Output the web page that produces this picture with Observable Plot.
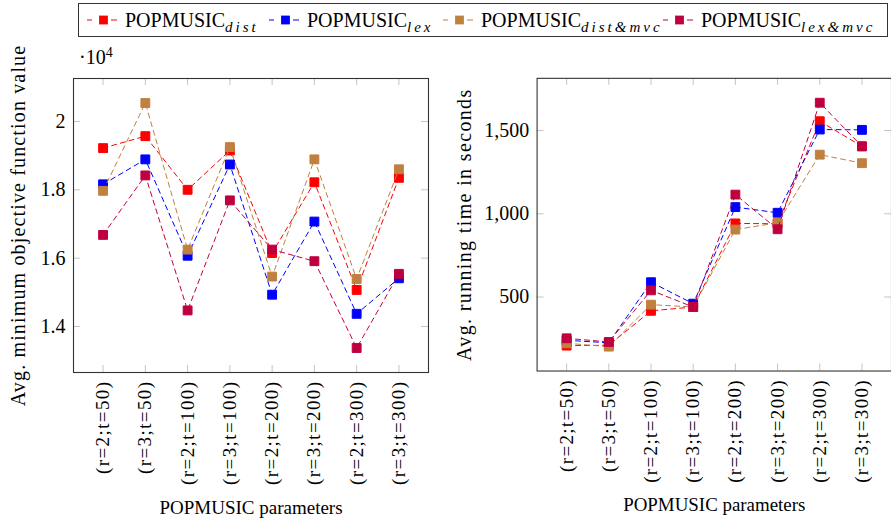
<!DOCTYPE html>
<html><head><meta charset="utf-8">
<script src="https://cdn.jsdelivr.net/npm/d3@7"></script>
<script src="https://cdn.jsdelivr.net/npm/@observablehq/plot@0.6"></script>
<style>
html,body{margin:0;padding:0;background:#fff;}
body{width:891px;height:519px;overflow:hidden;position:relative;font-family:'Liberation Serif','Times New Roman',serif;color:#000;}
#legend{position:absolute;left:78px;top:3px;width:808px;height:32px;border:1px solid #333;font-size:20px;font-family:'Liberation Serif',serif;}
.item{position:absolute;top:0;height:32px;display:flex;align-items:center;white-space:nowrap;}
.item svg{margin-right:8px;}
.item sub{font-style:italic;font-size:15px;letter-spacing:3px;vertical-align:-5px;line-height:0;}
#left{position:absolute;left:0;top:40px;}
#right{position:absolute;left:445px;top:40px;}
#exp{position:absolute;left:79px;top:46px;font-size:20px;font-family:'Liberation Serif',serif;}
#exp sup{font-size:14px;vertical-align:7px;line-height:0;}
svg text{font-family:'Liberation Serif',serif !important;}
</style>
</head><body>
<div id="legend"></div>
<div id="exp">·10<sup>4</sup></div>
<div id="left"></div>
<div id="right"></div>
<script>
const params = ["(r=2;t=50)", "(r=3;t=50)", "(r=2;t=100)", "(r=3;t=100)", "(r=2;t=200)", "(r=3;t=200)", "(r=2;t=300)", "(r=3;t=300)"];
const seriesKeys = ["dist", "lex", "dist&mvc", "lex&mvc"];
const colors = ["#ff0000", "#0000ff", "#bf8040", "#bf0040"];

// Avg. minimum objective function value
const objDist    = [19220, 19570, 18000, 19150, 16150, 18220, 15070, 18350];
const objLex     = [18160, 18890, 16070, 18740, 14930, 17070, 14370, 15410];
const objDistMvc = [17970, 20540, 16250, 19250, 15460, 18890, 15390, 18600];
const objLexMvc  = [16680, 18420, 14470, 17690, 16250, 15910, 13370, 15540];

// Avg. running time in seconds
const timeDist    = [208, 210, 417, 440, 942, 940, 1556, 1405];
const timeLex     = [240, 225, 589, 460, 1040, 1006, 1506, 1504];
const timeDistMvc = [222, 202, 454, 440, 905, 946, 1355, 1304];
const timeLexMvc  = [252, 230, 540, 440, 1115, 907, 1667, 1405];

const objTicks = [14000, 16000, 18000, 20000];
const timeTicks = [500, 1000, 1500];
const xLabel = "POPMUSIC parameters";

const idx = params.map((_, i) => i);
const FONT = "'Liberation Serif', serif";

function pad(ext) { const r = ext[1] - ext[0]; return [ext[0] - 0.1 * r, ext[1] + 0.1 * r]; }

function chart(seriesList, o) {
  const all = seriesList.flat();
  const plotW = o.width - o.marginLeft - o.marginRight;
  const plotH = o.height - o.marginTop - o.marginBottom;
  const marks = [
    Plot.ruleY(o.ticks, {y: d => d, stroke: "#c4c4c4", insetRight: plotW - 7}),
    Plot.ruleY(o.ticks, {y: d => d, stroke: "#c4c4c4", insetLeft: plotW - 7}),
    Plot.ruleX(idx, {x: d => d, stroke: "#c4c4c4", insetBottom: plotH - 7}),
    Plot.ruleX(idx, {x: d => d, stroke: "#c4c4c4", insetTop: plotH - 7}),
    Plot.frame({stroke: "#333", strokeWidth: 1.1})
  ];
  seriesList.forEach((vals, s) => {
    const rows = vals.map((v, i) => ({i, v}));
    marks.push(Plot.line(rows, {x: "i", y: "v", stroke: colors[s], strokeWidth: 1, strokeDasharray: "5,4"}));
    marks.push(Plot.dot(rows, {x: "i", y: "v", symbol: "square", r: 5, fill: colors[s], stroke: colors[s], strokeWidth: 1}));
  });
  marks.push(
    Plot.axisY({ticks: o.ticks, tickFormat: o.tickFormat, tickSize: 0, tickPadding: 8, label: null, fontFamily: FONT, fontSize: 20}),
    Plot.text(idx, {x: d => d, text: d => params[d], frameAnchor: "bottom", rotate: -90, textAnchor: "end", lineAnchor: "middle", dy: 8, fontSize: 19, fontFamily: FONT}),
    Plot.text([xLabel], {frameAnchor: "bottom", dy: 135, lineAnchor: "middle", fontSize: 19, fontFamily: FONT}),
    Plot.text([o.ylabel], {frameAnchor: "left", rotate: -90, dx: o.labelDx, lineAnchor: "middle", textAnchor: "middle", fontSize: 20, fontFamily: FONT})
  );
  const svg = Plot.plot({
    width: o.width, height: o.height,
    marginLeft: o.marginLeft, marginRight: o.marginRight, marginTop: o.marginTop, marginBottom: o.marginBottom,
    style: {fontFamily: FONT, fontSize: "20px", color: "#000", background: "transparent", overflow: "visible"},
    x: {type: "linear", domain: pad(d3.extent(idx)), axis: null},
    y: {type: "linear", domain: pad(d3.extent(all)), axis: null},
    marks
  });
  svg.setAttribute("font-family", FONT);
  d3.select(svg).selectAll("text").each(function() {
    const t = this.textContent;
    if (params.includes(t)) this.style.letterSpacing = "1.4px";
    else if (t === o.ylabel) this.style.letterSpacing = o.labelSpacing;
  });
  return svg;
}

document.getElementById("left").append(chart([objDist, objLex, objDistMvc, objLexMvc], {
  width: 445, height: 479, marginLeft: 73, marginRight: 17, marginTop: 38, marginBottom: 147,
  ticks: objTicks, tickFormat: d => String(d / 1e4), ylabel: "Avg. minimum objective function value", labelDx: -55, labelSpacing: "1.15px"
}));
document.getElementById("right").append(chart([timeDist, timeLex, timeDistMvc, timeLexMvc], {
  width: 448, height: 479, marginLeft: 92, marginRight: 0, marginTop: 38, marginBottom: 147,
  ticks: timeTicks, tickFormat: d3.format(","), ylabel: "Avg. running time in seconds", labelDx: -73, labelSpacing: "1.4px"
}));

// legend item left offsets inside the legend box (layout only)
const legendLeft = [8, 190, 364, 584];
const legend = document.getElementById("legend");
seriesKeys.forEach((k, s) => {
  const item = document.createElement("div");
  item.className = "item";
  item.style.left = legendLeft[s] + "px";
  item.innerHTML = `<svg width="30" height="12"><line x1="0" x2="5" y1="6" y2="6" stroke="${colors[s]}" stroke-width="1"/><rect x="12.5" y="2" width="8" height="8" fill="${colors[s]}" stroke="${colors[s]}" stroke-width="0.8"/><line x1="24" x2="30" y1="6" y2="6" stroke="${colors[s]}" stroke-width="1"/></svg><span>POPMUSIC<sub>${k.replace("&", "&amp;")}</sub></span>`;
  legend.append(item);
});
</script>
</body></html>
